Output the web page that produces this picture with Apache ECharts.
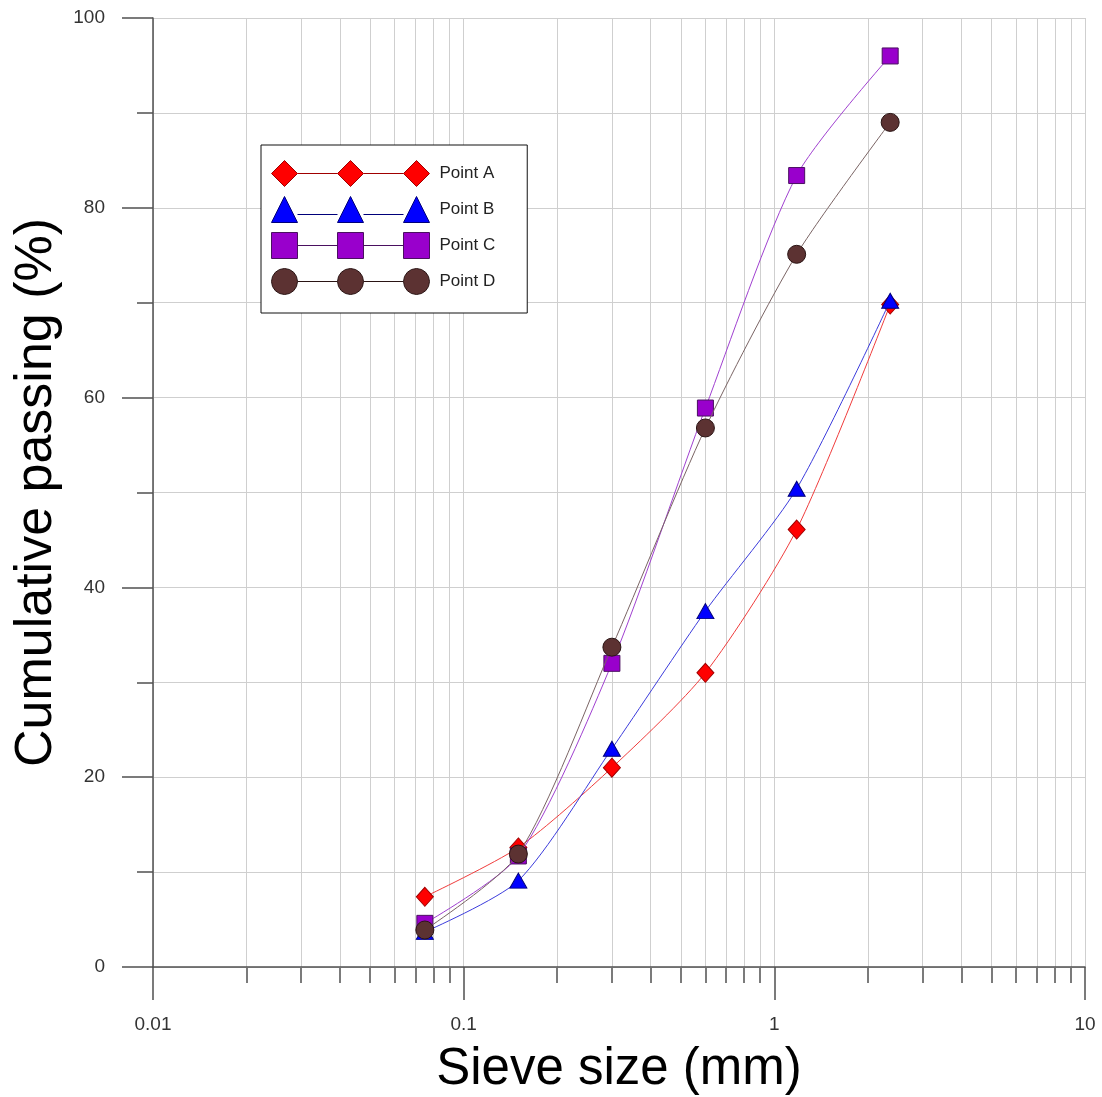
<!DOCTYPE html>
<html>
<head>
<meta charset="utf-8">
<script src="https://cdn.jsdelivr.net/npm/echarts@6/dist/echarts.min.js"></script>
<style>
html,body{margin:0;padding:0;background:#fff;}
#chart{width:1102px;height:1097px;}
</style>
</head>
<body>
<div id="chart"></div>
<script>
// ---- data ----
var sieveSizes = [0.075, 0.15, 0.3, 0.6, 1.18, 2.36];
var pointA = [7.4, 12.6, 21.0, 31.0, 46.1, 69.8];
var pointB = [3.7, 9.1, 23.0, 37.5, 50.4, 70.2];
var pointC = [4.6, 11.7, 32.0, 58.9, 83.4, 96.0];
var pointD = [3.9, 11.9, 33.7, 56.8, 75.1, 89.0];
var seriesNames = ['Point A', 'Point B', 'Point C', 'Point D'];
var xMajorTicks = [0.01, 0.1, 1, 10];
var xMinorTicks = [0.02,0.03,0.04,0.05,0.06,0.07,0.08,0.09,
                   0.2,0.3,0.4,0.5,0.6,0.7,0.8,0.9,
                   2,3,4,5,6,7,8,9];
var yTicks = [0, 20, 40, 60, 80, 100];

function pairs(xs, ys){ return xs.map(function(x,i){ return [x, ys[i]]; }); }

// legend icons: three markers joined by a line
var centers = [13, 79, 145];
function joinLines(y){ return 'M26 '+y+' L66 '+y+' M92 '+y+' L132 '+y+' '; }
function diamondIcon(){ var p=''; centers.forEach(function(c){ p+='M'+(c-13)+' 13 L'+c+' 0 L'+(c+13)+' 13 L'+c+' 26 Z '; }); return 'path://'+p+joinLines(13); }
function triangleIcon(){ var p=''; centers.forEach(function(c){ p+='M'+(c-13)+' 26 L'+c+' 0 L'+(c+13)+' 26 Z '; }); return 'path://'+p+joinLines(18); }
function squareIcon(){ var p=''; centers.forEach(function(c){ p+='M'+(c-13)+' 0 L'+(c+13)+' 0 L'+(c+13)+' 26 L'+(c-13)+' 26 Z '; }); return 'path://'+p+joinLines(13); }
function circleIcon(){ var p=''; centers.forEach(function(c){ for(var k=0;k<16;k++){ var a=k/16*Math.PI*2; p+=(k===0?'M':'L')+(c+13*Math.cos(a)).toFixed(2)+' '+(13+13*Math.sin(a)).toFixed(2)+' '; } p+='Z '; }); return 'path://'+p+joinLines(13); }

var styles = [
  {symbol:'diamond', size:[17,19], color:'#ff0000', border:'#a00000', line:'#f03c3c', icon:diamondIcon()},
  {symbol:'triangle', size:[17,15], color:'#0000ff', border:'#00007a', line:'#3c3cdc', icon:triangleIcon()},
  {symbol:'rect', size:[16,16], color:'#9900cc', border:'#4a1060', line:'#a040d0', icon:squareIcon()},
  {symbol:'circle', size:[18,18], color:'#5c3232', border:'#2a1414', line:'#7a6464', icon:circleIcon()}
];
var dataSets = [pointA, pointB, pointC, pointD];

var font = 'Liberation Sans, Arial, sans-serif';
var gridColor = '#cfcfcf';
var axisColor = '#505050';

var series = dataSets.map(function(d, i){
  var s = styles[i];
  return {
    name: seriesNames[i],
    type: 'line',
    xAxisIndex: 0,
    smooth: 0.25,
    data: pairs(sieveSizes, d),
    symbol: s.symbol,
    symbolSize: s.size,
    lineStyle: {color: s.line, width: 1},
    itemStyle: {color: s.color, borderColor: s.border, borderWidth: 1},
    z: 3 + i
  };
});

var option = {
  backgroundColor: '#ffffff',
  animation: false,
  grid: {left: 153, right: 17, top: 18, bottom: 130, containLabel: false, outerBoundsMode: 'none'},
  legend: {
    orient: 'vertical',
    left: 261, top: 145,
    padding: [15, 32, 18, 10],
    itemGap: 9,
    itemWidth: 158, itemHeight: 26,
    backgroundColor: '#ffffff',
    borderColor: '#111', borderWidth: 1,
    textStyle: {fontFamily: font, fontSize: 17, color: '#222', padding: [0,0,0,5]},
    data: seriesNames.map(function(n, i){
      return {name: n, icon: styles[i].icon,
              itemStyle: {color: styles[i].color, borderColor: styles[i].border, borderWidth: 1}};
    })
  },
  xAxis: [{
    type: 'log',
    logBase: 10,
    min: xMajorTicks[0], max: xMajorTicks[xMajorTicks.length-1],
    position: 'bottom',
    name: 'Sieve size (mm)',
    nameLocation: 'middle',
    nameGap: 77,
    nameTextStyle: {fontFamily: font, fontSize: 51, color: '#000'},
    axisLine: {show: true, onZero: false, lineStyle: {color: axisColor, width: 1.5}},
    axisTick: {show: true, inside: false, length: 33, lineStyle: {color: axisColor, width: 1.5}},
    axisLabel: {fontFamily: font, fontSize: 19, color: '#333', margin: 48},
    splitLine: {show: true, lineStyle: {color: gridColor, width: 1}},
    z: 2
  }, {
    type: 'value',
    min: Math.log10(xMajorTicks[0]), max: Math.log10(xMajorTicks[xMajorTicks.length-1]),
    position: 'bottom',
    axisLine: {show: false, onZero: false},
    axisLabel: {show: false},
    axisTick: {show: true, inside: false, length: 16, customValues: xMinorTicks.map(function(v){return Math.log10(v);}), lineStyle: {color: axisColor, width: 1.5}},
    splitLine: {show: true, lineStyle: {color: gridColor, width: 1}},
    z: 1
  }],
  yAxis: {
    type: 'value',
    min: yTicks[0], max: yTicks[yTicks.length-1], interval: 20,
    name: 'Cumulative passing (%)',
    nameLocation: 'middle',
    nameGap: 90,
    nameTextStyle: {fontFamily: font, fontSize: 52, color: '#000'},
    axisLine: {show: true, onZero: false, lineStyle: {color: axisColor, width: 1.5}},
    axisTick: {show: true, inside: false, length: 31, lineStyle: {color: axisColor, width: 1.5}},
    minorTick: {show: true, splitNumber: 2, length: 16, lineStyle: {color: axisColor, width: 1.5}},
    axisLabel: {fontFamily: font, fontSize: 19, color: '#333', margin: 48},
    splitLine: {show: true, lineStyle: {color: gridColor, width: 1}},
    minorSplitLine: {show: true, lineStyle: {color: gridColor, width: 1}},
    z: 2
  },
  series: series
};

var chart = echarts.init(document.getElementById('chart'), null, {renderer: 'canvas'});
chart.setOption(option);
</script>
</body>
</html>
